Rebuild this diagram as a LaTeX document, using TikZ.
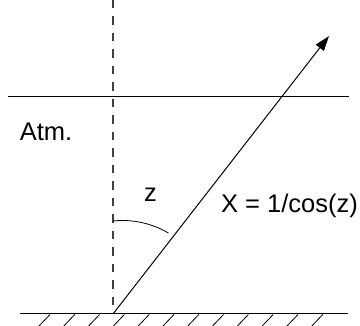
\documentclass[tikz,border=0pt]{standalone}
\usepackage{fontspec}
\setmainfont{Liberation Sans}
\usetikzlibrary{arrows.meta}

\begin{document}
\begin{tikzpicture}[
    x=1pt, y=1pt,
    >={Triangle[length=15pt,width=10pt]},
    font=\fontsize{25.5}{30}\selectfont,
    thinline/.style={
		line width=1pt,
		draw=black
	},
	zenith/.style={
		line width=1.1pt,
		draw=black!75,
		dash pattern=on 8.5pt off 8pt
	},
	hatch/.style={
		line width=0.8pt,
		draw=black
	},
	label/.style={
		inner sep=0pt,
		text=black
	}
  ]

 \useasboundingbox (0,0) rectangle (360,326);

 % // points
 \coordinate (ground) at (113,12);
 \coordinate (top) at (113,326);
 \coordinate (tip) at (329,290);
 \coordinate (atmL) at (8,229);
 \coordinate (atmR) at (349,229);
 \coordinate (gndL) at (20,12);
 \coordinate (gndR) at (348,12);

 % // zenith direction
 \draw [zenith] (top) -- (ground);

 % // top of the atmosphere
 \draw [thinline] (atmL) -- (atmR);

 % // ground with hatching
 \draw [thinline] (gndL) -- (gndR);
 \foreach \i in {0,...,11}
   \draw [hatch] (39+24.8*\i,0) -- ++(11,11.5);

 % // line of sight
 \draw [thinline, ->] (ground) -- (tip);

 % // zenith angle
 \draw [thinline, line width=0.8pt] (113,105) arc [start angle=96, end angle=59.5, radius=90.5];

 \node [label] (atm) at (46,194) {Atm.};
 \node [label] (zang) at (150.5,131) {z};
 \node [label] (airmass) at (289.5,120) {X = 1/cos(z)};

\end{tikzpicture}
\end{document}
